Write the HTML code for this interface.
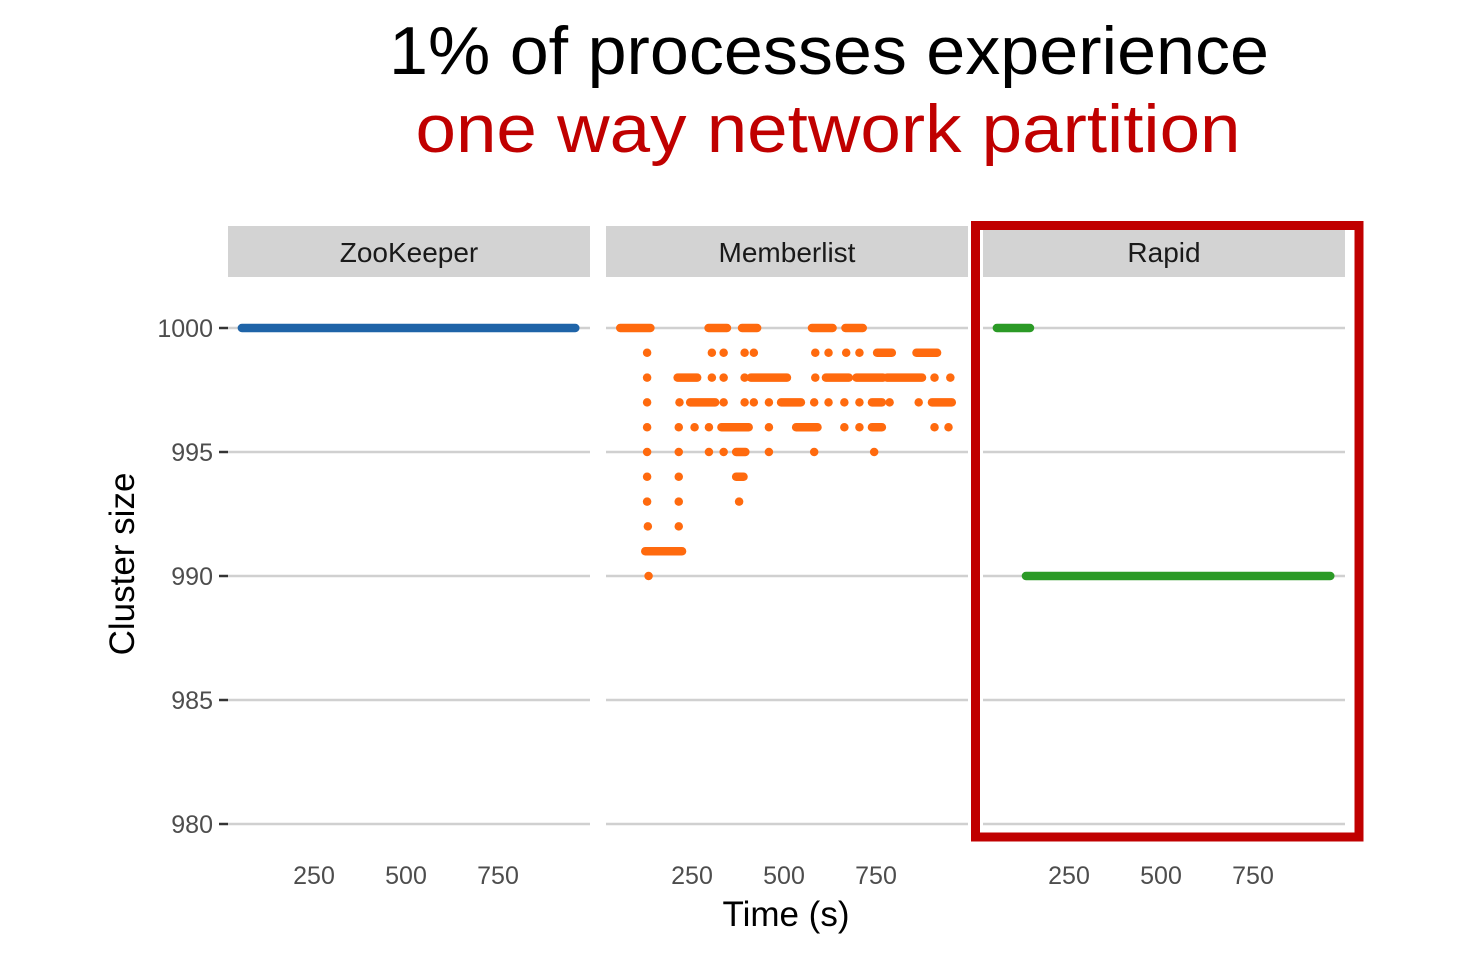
<!DOCTYPE html>
<html><head><meta charset="utf-8"><style>
body{margin:0;background:#fff;}
svg text{font-family:"Liberation Sans",sans-serif;}
</style></head><body>
<svg id="c" width="1482" height="952" xmlns="http://www.w3.org/2000/svg">
<text x="829" y="74" text-anchor="middle" font-size="68" fill="#000" textLength="880" lengthAdjust="spacingAndGlyphs">1% of processes experience</text>
<text x="828" y="152" text-anchor="middle" font-size="68" fill="#c00000" textLength="825" lengthAdjust="spacingAndGlyphs">one way network partition</text>
<g id="g"></g>
</svg>
<script>
const panels = ["ZooKeeper","Memberlist","Rapid"];
const yTicks = [980,985,990,995,1000];
const xTicks = [250,500,750];
// segments [clusterSize, tStart, tEnd]
const zkData = [[1000,54,960]];
const rapidData = [[1000,54,144],[990,133,960]];
const mlData = [
 [1000,55,137],[1000,295,345],[1000,386,427],[1000,576,632],[1000,667,714],
 [999,128,128],[999,304,304],[999,336,336],[999,393,393],[999,418,418],[999,585,585],[999,621,621],[999,669,669],[999,705,705],[999,753,793],[999,860,916],
 [998,128,128],[998,211,264],[998,304,304],[998,336,336],[998,393,393],[998,410,508],[998,585,585],[998,614,676],[998,697,769],[998,780,875],[998,909,909],[998,952,952],
 [997,128,128],[997,216,216],[997,245,313],[997,336,336],[997,393,393],[997,418,418],[997,459,459],[997,492,546],[997,582,582],[997,621,621],[997,664,664],[997,705,705],[997,739,766],[997,787,787],[997,866,866],[997,902,956],
 [996,128,128],[996,214,214],[996,257,257],[996,296,296],[996,330,404],[996,459,459],[996,533,591],[996,664,664],[996,705,705],[996,739,766],[996,909,909],[996,947,947],
 [995,128,128],[995,214,214],[995,296,296],[995,336,336],[995,370,395],[995,459,459],[995,582,582],[995,745,745],
 [994,128,128],[994,214,214],[994,370,390],
 [993,128,128],[993,214,214],[993,378,378],
 [992,130,130],[992,214,214],
 [991,123,223],
 [990,132,132]
];
const series=[zkData,mlData,rapidData];
const colors=["#1f64a8","#ff6a0e","#2b9a26"];
const NS="http://www.w3.org/2000/svg";
const g=document.getElementById('g');
const panelX=[228,606,983], panelW=362, plotTop=277, plotBottom=840;
function y(v){return 328+(1000-v)*24.8;}
function x(p,t){return panelX[p]-6+t*0.368;}
function el(tag,attrs,parent){const e=document.createElementNS(NS,tag);for(const k in attrs)e.setAttribute(k,attrs[k]);(parent||g).appendChild(e);return e;}
panels.forEach((name,p)=>{
  const s=el('rect',{x:panelX[p],y:226,width:panelW,height:51,fill:"#d3d3d3"});
  
  
  const t=el('text',{x:panelX[p]+panelW/2,y:262,'text-anchor':'middle','font-size':28,fill:'#1a1a1a'});
  t.textContent=name;
  
  
  yTicks.forEach(v=>{
    const l=el('line',{x1:panelX[p],x2:panelX[p]+panelW,y1:y(v),y2:y(v),stroke:'#d0d0d0','stroke-width':2.5});
    
    
  });
  xTicks.forEach(v=>{
    const tl=el('text',{x:x(p,v),y:884,'text-anchor':'middle','font-size':25,fill:'#4d4d4d'});
    tl.textContent=v;
    
    
  });
  series[p].forEach(d=>{
    const m=el('line',{x1:x(p,d[1]),x2:x(p,d[2]),y1:y(d[0]),y2:y(d[0]),stroke:colors[p],'stroke-width':8.5,'stroke-linecap':'round'});
    
    
  });
});
yTicks.forEach(v=>{
  const t=el('text',{x:213,y:y(v)+9,'text-anchor':'end','font-size':25,fill:'#4d4d4d'});
  t.textContent=v;
  
  
  const tk=el('line',{x1:219,x2:228,y1:y(v),y2:y(v),stroke:'#333','stroke-width':2.5});
  
  
});
const yt=el('text',{x:0,y:0,'text-anchor':'middle','font-size':35,fill:'#000',transform:'translate(134,564) rotate(-90)'});
yt.textContent='Cluster size';


const xt=el('text',{x:786,y:926,'text-anchor':'middle','font-size':35,fill:'#000'});
xt.textContent='Time (s)';


const hb=el('rect',{x:975.5,y:225.5,width:1359-975.5,height:837-225.5,fill:'none',stroke:'#c00000','stroke-width':9});


</script>
</body></html>
